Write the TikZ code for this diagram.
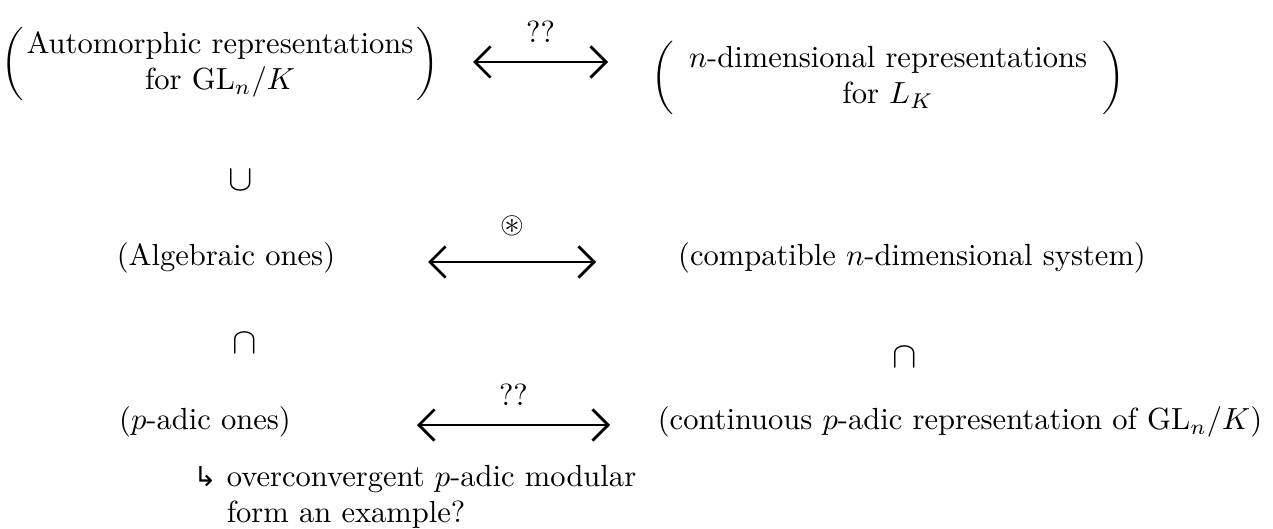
\documentclass[tikz,border=0pt]{standalone}
\usepackage{amsmath,amssymb}
\usepackage{fontspec}
\newfontfamily\symfont{DejaVu Sans}
\usetikzlibrary{positioning,arrows.meta}

\begin{document}
\begin{tikzpicture}[x=0.0115cm,y=-0.0115cm,font=\normalsize,
  >={Straight Barb[length=1.8mm,width=3.6mm]},
  obj/.style={inner sep=1pt,align=center},
  incl/.style={inner sep=0pt,font=\large},
  corr/.style={<->,line width=0.9pt},
  lbl/.style={inner sep=2pt}]
  \useasboundingbox (0,0) rectangle (1273,529);
  % top row
  \node[obj] (autrep) at (220,64)
    {$\arraycolsep=1pt\left(\begin{array}{c}\text{Automorphic representations}\\ \text{for }\mathrm{GL}_n/K\end{array}\right)$};
  \node[obj] (ndimrep) at (888,78)
    {$\left(\begin{array}{c}\text{$n$-dimensional representations}\\ \text{for }L_K\end{array}\right)$};
  % middle row
  \node[incl] (cup) at (241,180) {$\cup$};
  \node[obj] (algones) at (226,258) {(Algebraic ones)};
  \node[obj] (compsys) at (912,258) {(compatible $n$-dimensional system)};
  % bottom row
  \node[incl] (capl) at (245,343) {$\cap$};
  \node[incl] (capr) at (905,357) {$\cap$};
  \node[obj] (padic) at (205,422) {($p$-adic ones)};
  \node[obj] (contrep) at (960,422) {(continuous $p$-adic representation of $\mathrm{GL}_n/K$)};
  \node[obj,align=left,anchor=west] (note) at (190,497)
    {{\symfont\small ↳} overconvergent $p$-adic modular\\ \hphantom{{\symfont\small ↳} }form an example?};
  % correspondences
  \coordinate (tl) at (473,62);  \coordinate (tr) at (608,62);
  \coordinate (ml) at (428,262); \coordinate (mr) at (596,262);
  \coordinate (bl) at (417,425); \coordinate (br) at (610,425);
  \draw[corr] (tl) -- node[lbl,above=4pt] (q1) {??} (tr);
  \draw[corr] (ml) -- node[lbl,above=6pt] (ast) {$\circledast$} (mr);
  \draw[corr] (bl) -- node[lbl,above=4pt] (q2) {??} (br);
\end{tikzpicture}
\end{document}
